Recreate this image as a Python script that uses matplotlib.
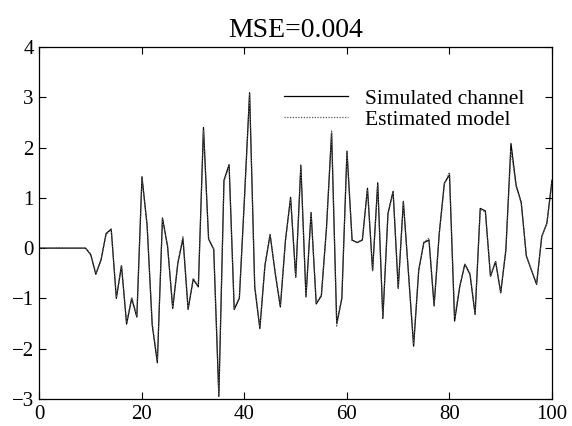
import matplotlib
matplotlib.use("Agg")
import matplotlib.pyplot as plt

x = list(range(101))
simulated = [0, 0, 0, 0, 0, 0, 0, 0, 0, 0,
             -0.13, -0.52, -0.24, 0.29, 0.38, -1.0, -0.35, -1.51, -1.0, -1.37,
             1.42, 0.46, -1.53, -2.28, 0.60, 0.03, -1.2, -0.3, 0.19, -1.22,
             -0.62, -0.77, 2.40, 0.18, -0.02, -2.95, 1.35, 1.66, -1.22, -1.0,
             1.0, 3.09, -0.77, -1.6, -0.34, 0.27, -0.5, -1.17, 0.16, 1.01,
             -0.58, 1.65, -0.97, 0.71, -1.11, -0.95, 0.4, 2.29, -1.5, -1.0,
             1.93, 0.16, 0.11, 0.16, 1.19, -0.45, 1.3, -1.4, 0.69, 1.13,
             -0.8, 0.93, -0.5, -1.95, -0.44, 0.11, 0.16, -1.15, 0.29, 1.29,
             1.46, -1.45, -0.77, -0.32, -0.52, -1.32, 0.79, 0.74, -0.56, -0.27,
             -0.89, -0.04, 2.08, 1.25, 0.91, -0.16, -0.44, -0.72, 0.23, 0.49,
             1.35]
estimated = [0, 0, 0, 0, 0.01, 0, 0, 0, 0, 0,
             -0.12, -0.5, -0.23, 0.27, 0.37, -0.98, -0.34, -1.48, -0.98, -1.35,
             1.38, 0.45, -1.5, -2.22, 0.58, 0.04, -1.18, -0.28, 0.24, -1.2,
             -0.6, -0.75, 2.35, 0.17, -0.02, -2.9, 1.32, 1.63, -1.2, -0.98,
             0.98, 3.05, -0.75, -1.57, -0.33, 0.26, -0.48, -1.15, 0.15, 0.98,
             -0.57, 1.62, -0.95, 0.69, -1.09, -0.93, 0.39, 2.33, -1.55, -0.98,
             1.9, 0.15, 0.12, 0.17, 1.17, -0.44, 1.27, -1.37, 0.67, 1.11,
             -0.78, 0.91, -0.49, -1.91, -0.43, 0.12, 0.2, -1.13, 0.28, 1.27,
             1.51, -1.38, -0.75, -0.31, -0.5, -1.29, 0.77, 0.72, -0.55, -0.26,
             -0.87, -0.03, 1.95, 1.23, 0.89, -0.15, -0.43, -0.7, 0.22, 0.5,
             1.3]

xticks = [0, 20, 40, 60, 80, 100]
yticks = [-3, -2, -1, 0, 1, 2, 3, 4]

plt.rcParams['font.family'] = ['Liberation Serif', 'DejaVu Serif']

fig = plt.figure(figsize=(5.72, 4.26), dpi=100)
ax = fig.add_axes([0.069, 0.0634, 0.896, 0.8263])

ax.plot(x, simulated, color='black', linewidth=0.9, label='Simulated channel')
ax.plot(x, estimated, color='#555555', linewidth=0.9, linestyle=(0, (1, 1.2)),
        label='Estimated model')

ax.set_xlim(0, 100)
ax.set_ylim(-3, 4)
ax.set_xticks(xticks)
ax.set_yticks(yticks)
ax.tick_params(direction='in', length=5, width=0.8, top=True, right=True,
               labelsize=15, pad=4)
for s in ax.spines.values():
    s.set_linewidth(0.9)

ax.set_title('MSE=0.004', fontsize=20, pad=7)

ax.legend(loc='upper right', bbox_to_anchor=(0.983, 0.937), frameon=False,
          fontsize=15.5, handlelength=3.0, handletextpad=0.75, labelspacing=0.05)

fig.savefig('out.png', dpi=100)
